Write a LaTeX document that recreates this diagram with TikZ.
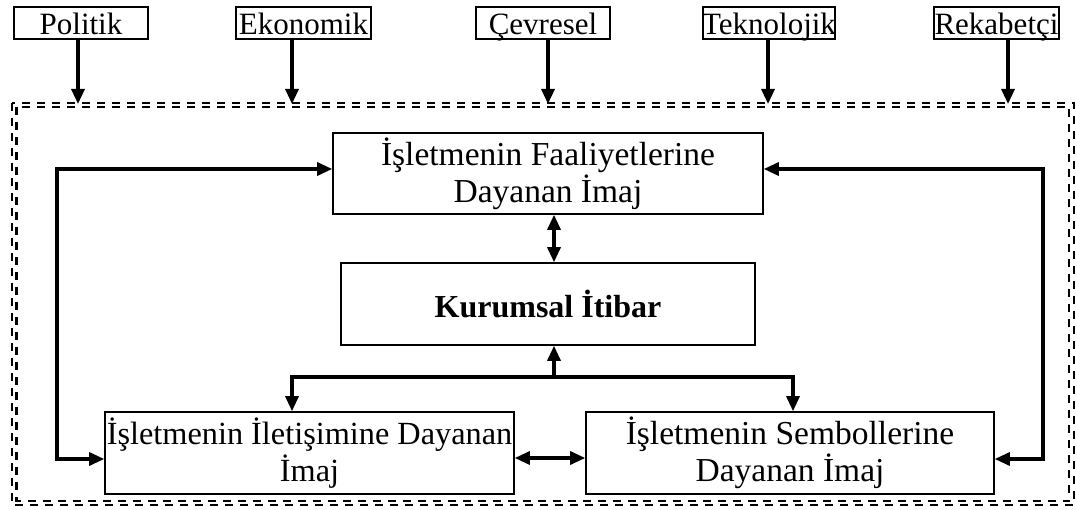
\documentclass[tikz,border=0pt]{standalone}
\usepackage{fontspec}
\setmainfont{Liberation Serif}
\usetikzlibrary{arrows.meta}
\tikzset{
  lbl/.style={draw, line width=1.5pt, inner sep=0pt, inner xsep=-3pt, minimum height=32pt, text height=26pt, text depth=2pt, font=\fontsize{31}{36}\selectfont},
  mbox/.style={draw, line width=1.6pt, inner sep=0pt, inner xsep=-6pt, minimum height=82pt, align=center, font=\fontsize{33.5}{37}\selectfont},
  arr/.style={line width=3.2pt, -{Triangle[length=15pt,width=13pt]}},
  arrb/.style={line width=3.2pt, {Triangle[length=15pt,width=13pt]}-{Triangle[length=15pt,width=13pt]}},
  brd/.style={line width=2.2pt, dash pattern=on 8pt off 7pt}
}
\begin{document}
\begin{tikzpicture}[x=1pt,y=-1pt]
\useasboundingbox (0,0) rectangle (1076,510);
% outer double dashed border
\draw[brd] (12,103) rectangle (1074,505);
\draw[brd] (16.5,107) rectangle (1069,501);
% top labels
\node[lbl, minimum width=134pt] (pol) at (81,23) {Politik};
\node[lbl, minimum width=135pt] (eko) at (303.5,23) {Ekonomik};
\node[lbl, minimum width=134pt] (cev) at (543,23) {Çevresel};
\node[lbl, minimum width=132pt] (tek) at (769,23) {Teknolojik};
\node[lbl, minimum width=125pt] (rek) at (996.5,23) {Rekabetçi};
\coordinate (a1) at (78,104);
\coordinate (a2) at (292,104);
\coordinate (a3) at (548,104);
\coordinate (a4) at (768,104);
\coordinate (a5) at (1008,104);
\draw[arr] (pol.south -| a1) -- (a1);
\draw[arr] (eko.south -| a2) -- (a2);
\draw[arr] (cev.south -| a3) -- (a3);
\draw[arr] (tek.south -| a4) -- (a4);
\draw[arr] (rek.south -| a5) -- (a5);
% main boxes
\node[mbox, minimum width=430pt, minimum height=81pt] (fa) at (548,173.5) {İşletmenin Faaliyetlerine\\Dayanan İmaj};
\node[mbox, minimum width=414pt, font=\fontsize{32}{37}\selectfont\bfseries] (ku) at (548,304) {Kurumsal İtibar};
\node[mbox, minimum width=409pt, font=\fontsize{32.3}{37}\selectfont] (il) at (309.5,453) {İşletmenin İletişimine Dayanan\\İmaj};
\node[mbox, minimum width=408pt] (se) at (790,453) {İşletmenin Sembollerine\\Dayanan İmaj};
% connectors
\coordinate (c1) at (554,200);
\draw[arrb] (fa.south -| c1) -- (ku.north -| c1);
\coordinate (jn) at (554,377);
\coordinate (jl) at (292,377);
\coordinate (jr) at (793,377);
\draw[arr] (jn) -- (ku.south -| jn);
\draw[arrb] (il.north -| jl) |- (jr) -- (se.north -| jr);
\coordinate (h1) at (550,458);
\draw[arrb] (il.east |- h1) -- (se.west |- h1);
\coordinate (lx) at (57,300);
\coordinate (rx) at (1043,300);
\coordinate (ty) at (548,169);
\coordinate (by) at (548,459);
\draw[arrb] (fa.west |- ty) -| (lx) |- (il.west |- by);
\draw[arrb] (fa.east |- ty) -| (rx) |- (se.east |- by);
\end{tikzpicture}
\end{document}
